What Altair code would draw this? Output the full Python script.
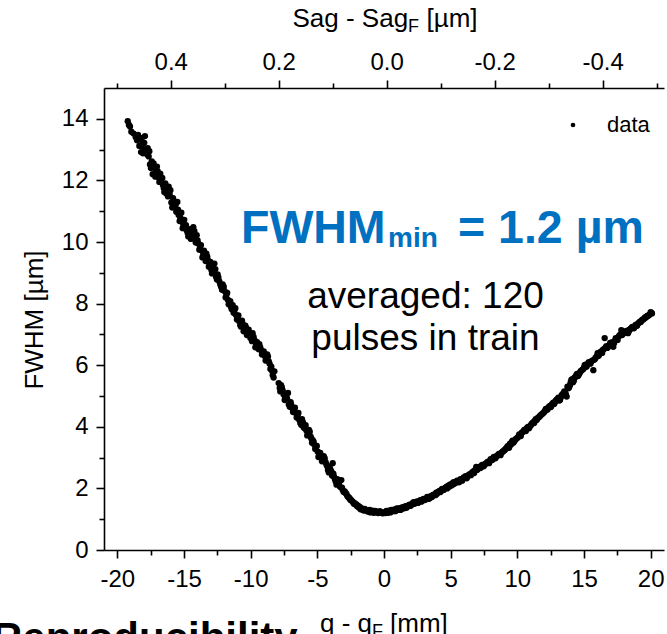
import altair as alt
import pandas as pd

# ---------------- data ----------------
q_left = [
    -19.22, -19.13, -18.95, -18.62, -18.45, -18.35, -18.22, -18.12, -18.02,
    -17.93, -17.85, -17.72, -17.65, -17.55, -17.42, -17.35, -17.22, -17.10, -17.03,
    -16.92, -16.78, -16.70, -16.58, -16.48, -16.40, -16.28, -16.15, -16.08,
    -15.95, -15.82, -15.70, -15.58, -15.50, -15.40, -15.28, -15.15, -15.05,
    -14.92, -14.80, -14.68, -14.55, -14.42, -14.30, -14.18, -14.05,
    -13.92, -13.80, -13.68, -13.55, -13.45, -13.32, -13.20, -13.08,
    -12.95, -12.85, -12.72, -12.60, -12.48, -12.35, -12.22, -12.10,
    -11.95, -11.82, -11.70, -11.60, -11.48, -11.35, -11.22, -11.10,
    -10.98, -10.85, -10.72, -10.60, -10.48, -10.35, -10.22, -10.08,
    -9.95, -9.85, -9.72, -9.60, -9.45, -9.35, -9.20, -9.08,
    -8.95, -8.82, -8.70, -8.58, -8.45, -8.35, -8.22,
    -7.82, -7.72, -7.60, -7.45, -7.35, -7.20, -7.07, -7.00,
    -6.88, -6.75, -6.62, -6.47, -6.35, -6.20, -6.08,
    -5.95, -5.82, -5.70, -5.57, -5.45, -5.35, -5.22, -5.10,
    -4.97, -4.85, -4.72, -4.58, -4.45, -4.32, -4.20, -4.08,
    -3.95, -3.85, -3.75, -3.62, -3.50, -3.38, -3.20, -3.10,
    -2.95, -2.82, -2.70, -2.58, -2.45, -2.32, -2.20, -2.08,
    -1.95, -1.82, -1.70, -1.58, -1.45, -1.32, -1.20, -1.08,
    -0.95, -0.85, -0.72, -0.60, -0.45, -0.32, -0.20, -0.08,
]
fwhm_left = [
    13.92, 13.80, 13.58, 13.40, 13.48, 13.12, 12.92, 13.25, 13.05,
    13.44, 12.98, 13.05, 12.78, 12.52, 12.62, 12.20, 12.42, 12.28, 12.45,
    12.10, 12.22, 12.05, 11.85, 11.62, 11.90, 11.72, 11.80, 11.55,
    11.28, 11.42, 11.15, 10.98, 11.30, 10.88, 10.80, 10.70, 10.58,
    10.52, 10.38, 10.18, 10.42, 10.30, 10.48, 10.10, 10.22,
    9.95, 9.85, 9.72, 9.60, 9.52, 9.62, 9.40, 9.28,
    9.10, 9.22, 9.30, 8.87, 8.95, 8.72, 8.55, 8.62,
    8.40, 8.28, 8.12, 8.02, 7.90, 7.95, 7.78, 7.63,
    7.55, 7.42, 7.25, 7.35, 7.18, 7.22, 7.08, 7.02,
    6.95, 7.04, 6.82, 6.70, 6.60, 6.68, 6.48, 6.40,
    6.30, 6.22, 6.28, 6.05, 5.95, 5.68, 5.80,
    5.26, 5.35, 5.18, 4.87, 5.02, 5.10, 4.65, 4.80,
    4.60, 4.52, 4.45, 4.38, 4.22, 4.06, 4.15,
    3.95, 3.88, 3.80, 3.84, 3.62, 3.57, 3.42, 3.35,
    3.19, 3.10, 3.05, 2.95, 2.98, 2.78, 2.60, 2.70,
    2.55, 2.82, 2.38, 2.22, 2.30, 2.15, 2.27, 1.95,
    1.90, 1.82, 1.73, 1.68, 1.62, 1.55, 1.52, 1.48,
    1.44, 1.40, 1.35, 1.30, 1.33, 1.28, 1.25, 1.30,
    1.24, 1.28, 1.22, 1.25, 1.20, 1.26, 1.22, 1.19,
]
q_left_b = [
    -19.05, -18.78, -18.52, -18.28, -18.08, -17.98, -17.78, -17.60, -17.48, -17.28,
    -17.15, -16.98, -16.85, -16.63, -16.52, -16.35, -16.20, -16.02, -15.88, -15.75,
    -15.62, -15.45, -15.33, -15.20, -15.10, -14.98, -14.85, -14.73, -14.60, -14.48,
    -14.35, -14.22, -14.12, -13.98, -13.85, -13.73, -13.62, -13.50, -13.38, -13.25,
    -13.14, -13.02, -12.90, -12.78, -12.65, -12.53, -12.42, -12.28, -12.15, -12.02,
    -11.88, -11.76, -11.65, -11.53, -11.42, -11.28, -11.15, -11.03, -10.92, -10.78,
    -10.65, -10.53, -10.40, -10.28, -10.15, -10.02, -9.90, -9.78, -9.65, -9.52,
    -9.40, -9.28, -9.15, -9.02, -8.88, -8.76, -8.64, -8.52, -8.40, -8.28,
    -7.90, -7.78, -7.66, -7.53, -7.40, -7.27, -7.14, -6.95, -6.82, -6.68,
    -6.55, -6.42, -6.28, -6.15, -6.02, -5.88, -5.76, -5.63, -5.50, -5.40,
    -5.28, -5.16, -5.04, -4.92, -4.78, -4.65, -4.52, -4.38, -4.26, -4.14,
    -4.02, -3.90, -3.80, -3.68, -3.56, -3.44, -3.30, -3.15, -3.02, -2.88,
    -2.76, -2.64, -2.52, -2.38, -2.26, -2.14, -2.02, -1.88, -1.76, -1.64,
    -1.52, -1.38, -1.26, -1.14, -1.02, -0.90, -0.78, -0.66, -0.52, -0.38,
    -0.26, -0.14,
]
fwhm_left_b = [
    13.75, 13.52, 13.30, 13.38, 12.88, 13.22, 12.85, 12.95, 12.40, 12.55,
    12.12, 12.30, 11.95, 12.08, 11.75, 11.58, 11.48, 11.68, 11.12, 11.32,
    11.22, 11.05, 10.68, 10.95, 10.45, 10.72, 10.55, 10.30, 10.25, 10.10,
    10.28, 10.35, 9.98, 10.05, 9.75, 9.90, 9.50, 9.72, 9.38, 9.52,
    9.20, 9.35, 8.98, 9.05, 9.12, 8.78, 8.85, 8.62, 8.45, 8.55,
    8.20, 8.35, 7.98, 8.08, 7.82, 7.70, 7.85, 7.48, 7.62, 7.30,
    7.45, 7.10, 7.28, 6.98, 7.15, 6.88, 6.78, 6.92, 6.58, 6.75,
    6.52, 6.58, 6.35, 6.45, 6.15, 6.35, 6.12, 5.88, 5.82, 5.60,
    5.42, 5.15, 5.28, 5.05, 4.95, 4.92, 4.72, 4.70, 4.48, 4.62,
    4.30, 4.45, 4.12, 4.25, 3.98, 4.05, 3.72, 3.90, 3.68, 3.48,
    3.52, 3.28, 3.38, 3.02, 3.15, 2.88, 3.05, 2.85, 2.72, 2.52,
    2.62, 2.42, 2.48, 2.30, 2.12, 2.20, 2.05, 2.02, 1.88, 1.85,
    1.76, 1.70, 1.62, 1.58, 1.50, 1.48, 1.42, 1.38, 1.32, 1.34,
    1.28, 1.30, 1.26, 1.27, 1.22, 1.25, 1.21, 1.27, 1.23, 1.21,
    1.24, 1.20,
]
q_right = [
    0.05, 0.18, 0.30, 0.42, 0.55, 0.68, 0.80, 0.92,
    1.05, 1.18, 1.30, 1.42, 1.55, 1.68, 1.80, 1.92,
    2.05, 2.15, 2.28, 2.42, 2.55, 2.68, 2.80, 2.92,
    3.05, 3.18, 3.30, 3.42, 3.55, 3.65, 3.80, 3.92,
    4.05, 4.18, 4.30, 4.42, 4.55, 4.68, 4.80, 4.92,
    5.05, 5.15, 5.28, 5.42, 5.55, 5.68, 5.80, 5.92,
    6.05, 6.20, 6.32, 6.45, 6.58, 6.70, 6.82, 6.92,
    7.05, 7.18, 7.30, 7.42, 7.55, 7.70, 7.82, 7.95,
    8.05, 8.18, 8.30, 8.40, 8.55, 8.68, 8.80, 8.92,
    9.05, 9.18, 9.30, 9.45, 9.58, 9.70, 9.82, 9.95,
    10.08, 10.20, 10.32, 10.45, 10.58, 10.70, 10.82, 10.95,
    11.08, 11.20, 11.32, 11.45, 11.58, 11.70, 11.82, 11.95,
    12.08, 12.20, 12.32, 12.45, 12.58, 12.70, 12.82, 12.95,
    13.08, 13.20, 13.32, 13.45, 13.58, 13.70, 13.82, 13.95,
    14.05, 14.18, 14.30, 14.42, 14.55, 14.68, 14.80, 14.95,
    15.05, 15.18, 15.30, 15.42, 15.55, 15.70, 15.82, 15.95,
    16.02, 16.15, 16.30, 16.42, 16.55, 16.62, 16.75, 16.90,
    17.05, 17.20, 17.32, 17.45, 17.58, 17.70, 17.80, 17.92,
    18.05, 18.18, 18.30, 18.42, 18.55, 18.68, 18.80, 18.92,
    19.05, 19.20, 19.32, 19.45, 19.58, 19.70, 19.82, 19.95, 20.05,
]
fwhm_right = [
    1.23, 1.27, 1.21, 1.25, 1.30, 1.26, 1.29, 1.33,
    1.30, 1.36, 1.33, 1.38, 1.40, 1.37, 1.44, 1.47,
    1.46, 1.52, 1.50, 1.55, 1.53, 1.60, 1.57, 1.64,
    1.62, 1.66, 1.70, 1.68, 1.75, 1.78, 1.80, 1.86,
    1.88, 1.92, 1.95, 1.97, 2.00, 2.05, 2.08, 2.06,
    2.12, 2.17, 2.15, 2.20, 2.24, 2.22, 2.28, 2.32,
    2.35, 2.33, 2.42, 2.46, 2.50, 2.55, 2.58, 2.70,
    2.64, 2.68, 2.72, 2.75, 2.78, 2.82, 2.85, 2.90,
    2.93, 2.98, 3.00, 3.03, 3.08, 3.10, 3.15, 3.20,
    3.25, 3.30, 3.38, 3.45, 3.50, 3.48, 3.56, 3.62,
    3.68, 3.72, 3.80, 3.85, 3.88, 3.95, 4.00, 4.02,
    4.10, 4.15, 4.20, 4.22, 4.30, 4.35, 4.40, 4.45,
    4.52, 4.55, 4.62, 4.68, 4.72, 4.78, 4.80, 4.88,
    4.95, 4.87, 5.02, 5.08, 5.12, 4.98, 5.25, 5.35,
    5.52, 5.45, 5.60, 5.68, 5.65, 5.75, 5.82, 5.88,
    6.00, 5.95, 6.05, 6.08, 6.12, 5.84, 6.20, 6.28,
    6.39, 6.35, 6.45, 6.50, 6.88, 6.58, 6.56, 6.65,
    6.70, 6.60, 6.80, 6.85, 6.92, 6.98, 7.14, 7.02,
    7.10, 7.08, 7.04, 7.15, 7.20, 7.22, 7.25, 7.32,
    7.35, 7.41, 7.45, 7.48, 7.55, 7.58, 7.62, 7.66, 7.70,
]
q_right_b = [
    0.12, 0.24, 0.36, 0.48, 0.62, 0.74, 0.86, 0.98, 1.12, 1.24,
    1.36, 1.48, 1.62, 1.74, 1.86, 1.98, 2.10, 2.22, 2.35, 2.48,
    2.62, 2.74, 2.86, 2.98, 3.12, 3.24, 3.36, 3.48, 3.60, 3.72,
    3.86, 3.98, 4.12, 4.24, 4.36, 4.48, 4.62, 4.74, 4.86, 4.98,
    5.10, 5.22, 5.35, 5.48, 5.62, 5.74, 5.86, 5.98, 6.12, 6.26,
    6.38, 6.52, 6.64, 6.76, 6.88, 6.98, 7.12, 7.24, 7.36, 7.48,
    7.62, 7.76, 7.88, 8.00, 8.12, 8.24, 8.36, 8.48, 8.62, 8.74,
    8.86, 8.98, 9.12, 9.24, 9.38, 9.52, 9.64, 9.76, 9.88, 10.02,
    10.14, 10.26, 10.38, 10.52, 10.64, 10.76, 10.88, 11.02, 11.14, 11.26,
    11.38, 11.52, 11.64, 11.76, 11.88, 12.02, 12.14, 12.26, 12.38, 12.52,
    12.64, 12.76, 12.88, 13.02, 13.14, 13.26, 13.38, 13.52, 13.64, 13.76,
    13.88, 14.00, 14.12, 14.24, 14.36, 14.48, 14.62, 14.74, 14.88, 15.00,
    15.12, 15.24, 15.36, 15.48, 15.62, 15.76, 15.88, 16.08, 16.22, 16.36,
    16.48, 16.68, 16.82, 16.96, 17.12, 17.26, 17.38, 17.52, 17.64, 17.75,
    17.86, 17.98, 18.12, 18.24, 18.36, 18.48, 18.62, 18.74, 18.86, 18.98,
    19.12, 19.26, 19.38, 19.52, 19.64, 19.76, 19.88, 20.00, 20.10,
]
fwhm_right_b = [
    1.20, 1.24, 1.28, 1.22, 1.27, 1.31, 1.26, 1.35, 1.32, 1.30,
    1.38, 1.35, 1.42, 1.40, 1.45, 1.43, 1.49, 1.55, 1.52, 1.58,
    1.56, 1.62, 1.60, 1.66, 1.64, 1.72, 1.66, 1.74, 1.72, 1.80,
    1.78, 1.83, 1.90, 1.88, 1.98, 1.95, 2.02, 2.00, 2.10, 2.13,
    2.10, 2.20, 2.18, 2.25, 2.20, 2.30, 2.25, 2.36, 2.40, 2.38,
    2.45, 2.43, 2.52, 2.50, 2.62, 2.60, 2.70, 2.66, 2.76, 2.72,
    2.80, 2.86, 2.82, 2.95, 2.92, 3.02, 2.98, 3.06, 3.12, 3.08,
    3.18, 3.22, 3.28, 3.35, 3.32, 3.42, 3.55, 3.52, 3.60, 3.65,
    3.75, 3.70, 3.82, 3.90, 3.86, 3.98, 3.95, 4.05, 4.12, 4.12,
    4.25, 4.28, 4.32, 4.38, 4.42, 4.48, 4.58, 4.56, 4.65, 4.64,
    4.75, 4.74, 4.85, 4.90, 4.85, 4.95, 5.05, 5.15, 5.05, 5.30,
    5.28, 5.45, 5.55, 5.50, 5.62, 5.72, 5.70, 5.80, 5.85, 5.92,
    6.02, 6.00, 6.10, 6.05, 6.15, 6.18, 6.25, 6.30, 6.42, 6.40,
    6.52, 6.62, 6.60, 6.72, 6.75, 6.72, 6.88, 6.82, 6.95, 7.00,
    6.98, 7.06, 7.05, 7.12, 7.10, 7.18, 7.24, 7.20, 7.30, 7.28,
    7.38, 7.40, 7.48, 7.52, 7.55, 7.60, 7.62, 7.72, 7.68,
]

x_major = [-20, -15, -10, -5, 0, 5, 10, 15, 20]
x_minor = [-17.5, -12.5, -7.5, -2.5, 2.5, 7.5, 12.5, 17.5]
y_major = [0, 2, 4, 6, 8, 10, 12, 14]
y_minor = [1, 3, 5, 7, 9, 11, 13]
sag_major = [0.4, 0.2, 0.0, -0.2, -0.4]
sag_minor = [0.5, 0.3, 0.1, -0.1, -0.3, -0.5]

Q_DOMAIN = [-21, 21]
FWHM_DOMAIN = [0, 15]
SAG_DOMAIN = [-0.5138, 0.5236]  # Sag - Sag_F at the right / left ends of the q axis

# ---------------- layout ----------------
FONT = "Liberation Sans"
LEFT, TOP, W, H = 104, 88, 560, 462
BLUE = "#0070C0"

q_all = q_left + q_left_b + q_right + q_right_b
f_all = fwhm_left + fwhm_left_b + fwhm_right + fwhm_right_b
assert len(q_left) == len(fwhm_left)
assert len(q_left_b) == len(fwhm_left_b)
assert len(q_right) == len(fwhm_right)
assert len(q_right_b) == len(fwhm_right_b)
df = pd.DataFrame({"q": q_all, "fwhm": f_all})

xscale = alt.Scale(domain=Q_DOMAIN, nice=False, zero=False)
yscale = alt.Scale(domain=FWHM_DOMAIN, nice=False, zero=False)
sagscale = alt.Scale(domain=SAG_DOMAIN, reverse=True, nice=False, zero=False)

common = dict(grid=False, title=None, domainColor="black", domainWidth=1.6,
              tickColor="black", tickWidth=1.6, labelFont=FONT, labelFontSize=24,
              labelColor="black", labelOverlap=False, labelFlush=False, labelBound=False)

ax_bottom = alt.Axis(orient="bottom", values=x_major, tickSize=8, labelPadding=9,
                     labelExpr="'' + datum.value", **common)
ax_bottom_minor = alt.Axis(orient="bottom", values=x_minor, tickSize=5, labels=False,
                           domain=False, **common)
ax_left = alt.Axis(orient="left", values=y_major, tickSize=8, labelPadding=8,
                   labelExpr="'' + datum.value", **common)
ax_left_minor = alt.Axis(orient="left", values=y_minor, tickSize=5, labels=False,
                         domain=False, **common)
ax_top = alt.Axis(orient="top", values=sag_major, tickSize=8, labelPadding=6,
                  labelExpr="replace(format(datum.value, '.1f'), '\u2212', '-')", **common)
ax_top_minor = alt.Axis(orient="top", values=sag_minor, tickSize=5, labels=False,
                        domain=False, **common)

points = alt.Chart(df).mark_circle(size=40, color="black", opacity=1).encode(
    x=alt.X("q:Q", scale=xscale, axis=ax_bottom),
    y=alt.Y("fwhm:Q", scale=yscale, axis=ax_left),
)
bottom_minor = alt.Chart(pd.DataFrame({"q": x_minor})).mark_point(opacity=0).encode(
    x=alt.X("q:Q", scale=xscale, axis=ax_bottom_minor))
left_minor = alt.Chart(pd.DataFrame({"f": y_minor})).mark_point(opacity=0).encode(
    y=alt.Y("f:Q", scale=yscale, axis=ax_left_minor))
top_major = alt.Chart(pd.DataFrame({"sag": sag_major})).mark_point(opacity=0).encode(
    x=alt.X("sag:Q", scale=sagscale, axis=ax_top))
top_minor = alt.Chart(pd.DataFrame({"sag": sag_minor})).mark_point(opacity=0).encode(
    x=alt.X("sag:Q", scale=sagscale, axis=ax_top_minor))

anchor = pd.DataFrame({"a": [0]})


def label(text, x, y, size, color="black", weight="normal", align="left", angle=0):
    mk = dict(text=text, font=FONT, fontSize=size, fontWeight=weight, color=color,
              align=align, baseline="alphabetic")
    if angle:
        mk["angle"] = angle
    return alt.Chart(anchor).mark_text(**mk).encode(
        x=alt.value(x - LEFT), y=alt.value(y - TOP))


texts = [
    # top axis title: Sag - Sag_F [µm]
    label("Sag - Sag", 292.5, 27, 26),
    label("F", 408.1, 32, 18),
    label("[\u00b5m]", 426.5, 27, 26),
    # bottom axis title: q - q_F [mm]
    label("q - q", 320, 632, 26),
    label("F", 372, 637, 18),
    label("[mm]", 390, 632, 26),
    # left axis title
    label("FWHM [\u00b5m]", 42.5, 320, 26, align="center", angle=270),
    # annotation
    label("FWHM", 241, 243, 46.5, color=BLUE, weight="bold"),
    label("min", 388, 247, 28, color=BLUE, weight="bold"),
    label("= 1.2 \u00b5m", 458, 243, 46.5, color=BLUE, weight="bold"),
    label("averaged: 120", 425.5, 308, 37, align="center"),
    label("pulses in train", 425.5, 350, 37, align="center"),
    # legend
    label("data", 607, 132, 22),
    # bold slide text cut off at the bottom
    label("Reproducibility", -8, 652, 42, weight="bold"),
]
legend_dot = alt.Chart(anchor).mark_circle(size=22, color="black", opacity=1).encode(
    x=alt.value(573 - LEFT), y=alt.value(125 - TOP))

chart = alt.layer(
    points, bottom_minor, left_minor, top_major, top_minor, legend_dot, *texts
).resolve_scale(x="independent", y="independent").properties(
    width=W, height=H,
    autosize=alt.AutoSizeParams(type="none"),
    padding={"left": LEFT, "top": TOP, "right": 667 - LEFT - W, "bottom": 634 - TOP - H},
    background="white",
).configure_view(strokeWidth=0)

chart.save("out.html", embed_options={"renderer": "svg", "actions": False})
